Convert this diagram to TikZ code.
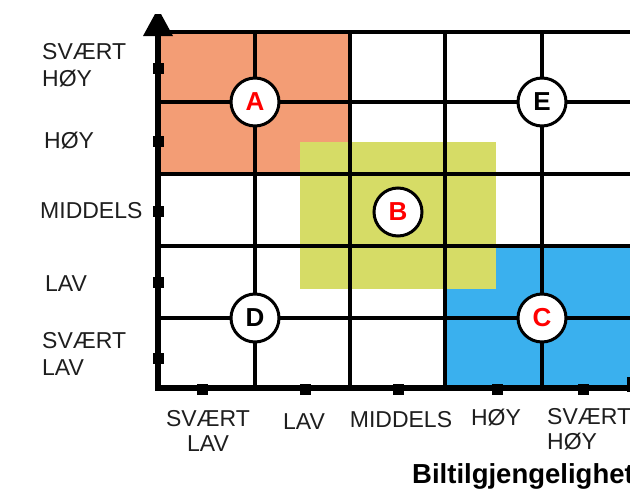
\documentclass[tikz,border=0pt]{standalone}
\usepackage{fontspec}
\setmainfont{Liberation Sans}
\definecolor{zoneA}{RGB}{243,157,117}
\definecolor{zoneB}{RGB}{214,220,102}
\definecolor{zoneC}{RGB}{58,176,238}
\definecolor{labgray}{RGB}{30,30,30}
\begin{document}
\begin{tikzpicture}[x=1pt,y=-1pt,
  gridline/.style={line width=3.2pt,black},
  axisline/.style={line width=6pt,black},
  tickmark/.style={fill=black,minimum width=11pt,minimum height=11pt,inner sep=0pt,draw=none},
  lab/.style={font=\fontsize{23}{27}\selectfont,inner sep=0pt,text=labgray},
  blab/.style={font=\fontsize{23}{25}\selectfont,inner sep=0pt,text=labgray,align=center},
  zonecirc/.style={circle,draw=black,line width=3pt,fill=white,minimum size=48pt,inner sep=0pt,font=\fontsize{26}{26}\selectfont\bfseries},
]
\useasboundingbox (0,0) rectangle (630,488);
\clip (0,0) rectangle (630,488);
% zones
\fill[zoneA] (158,32) rectangle (350,174);
\fill[zoneC] (445,246) rectangle (640,388);
\fill[zoneB] (300,142) rectangle (496,289);
% grid
\foreach \y in {32,102,174,246,318} \draw[gridline] (158,\y) -- (640,\y);
\foreach \x in {255,350,445,542} \draw[gridline] (\x,32) -- (\x,388);
% axes
\draw[axisline] (158,385) -- (158,30);
\fill[black] (143,36) -- (155,14) -- (161,14) -- (173,36) -- cycle;
\draw[axisline] (155,388) -- (640,388);
\fill[black] (627,377) rectangle (631,392);
% ticks
\foreach \y [count=\i] in {68,141,211,282,358} \node[tickmark] (yt\i) at (158,\y) {};
\foreach \x [count=\i] in {202,305,398,497,583} \node[tickmark] (xt\i) at (\x,389) {};
% circles
\node[zonecirc,text=red] (A) at (255,102) {A};
\node[zonecirc,text=red] (B) at (398,212) {B};
\node[zonecirc,text=red] (C) at (542,318) {C};
\node[zonecirc,text=black] (D) at (255,318) {D};
\node[zonecirc,text=black] (E) at (542,102) {E};
% y labels
\node[lab,anchor=north west,align=left] (ly5) at (42,43) {SVÆRT\\HØY};
\node[lab,anchor=base west] (ly4) at (44,148) {HØY};
\node[lab,anchor=base west] (ly3) at (40,218) {MIDDELS};
\node[lab,anchor=base west] (ly2) at (45,291) {LAV};
\node[lab,anchor=north west,align=left] (ly1) at (42,332) {SVÆRT\\LAV};
% x labels
\node[blab,anchor=north] (lx1) at (208,410) {SVÆRT\\LAV};
\node[blab,anchor=base] (lx2) at (304,429) {LAV};
\node[blab,anchor=base] (lx3) at (401,427) {MIDDELS};
\node[blab,anchor=base] (lx4) at (496,425) {HØY};
\node[blab,anchor=north west,align=left] (lx5) at (547,408) {SVÆRT\\HØY};
\node[anchor=base west,inner sep=0pt,font=\fontsize{27.5}{27.5}\selectfont\bfseries] (xtitle) at (412,483) {Biltilgjengelighet};
\end{tikzpicture}
\end{document}
